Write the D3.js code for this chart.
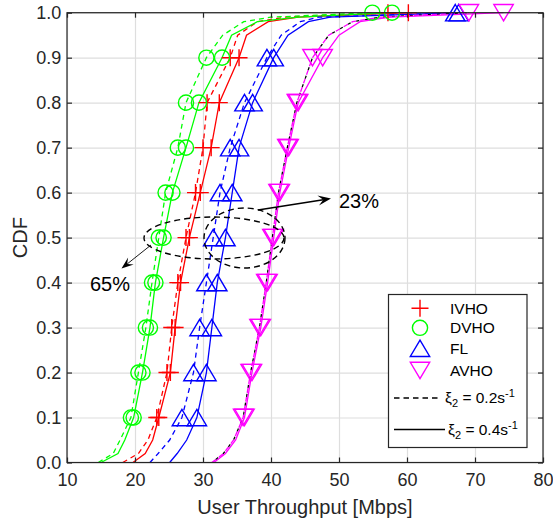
<!DOCTYPE html>
<html>
<head>
<meta charset="utf-8">
<script src="https://cdn.jsdelivr.net/npm/d3@7/dist/d3.min.js"></script>
<style>
  body { margin: 0; background: #fff; }
  svg { display: block; font-family: "Liberation Sans", Arial, sans-serif; }
</style>
</head>
<body>
<div id="chart"></div>
<script>
// CDF levels shared by every curve
const levels = [0, 0.02, 0.05, 0.1, 0.2, 0.3, 0.4, 0.5, 0.6, 0.7, 0.8, 0.9, 0.95, 0.98, 0.99, 1];
const markerLevels = [0.1, 0.2, 0.3, 0.4, 0.5, 0.6, 0.7, 0.8, 0.9, 1];

// throughput (Mbps) at each level, xi2 = 0.2 (dashed) and 0.4 (solid)
const ivho02 = [18.2, 20.5, 21.9, 23.2, 24.7, 25.4, 26.3, 27.5, 28.9, 30.0, 30.6, 34.0, 35.1, 38.0, 42.0, 57.2];
const ivho04 = [19.7, 21.5, 22.6, 23.5, 25.2, 25.9, 26.7, 28.0, 29.6, 31.2, 32.4, 35.3, 36.4, 39.6, 44.0, 60.2];
const dvho02 = [14.6, 16.8, 17.8, 19.4, 20.5, 21.6, 22.5, 23.5, 24.5, 26.3, 27.5, 30.5, 32.9, 36.0, 40.0, 54.9];
const dvho04 = [15.0, 17.5, 18.5, 19.8, 21.1, 22.2, 23.0, 24.2, 25.5, 27.5, 29.4, 32.8, 34.2, 38.0, 44.0, 57.8];
const fl02   = [22.2, 23.4, 25.1, 26.9, 28.6, 29.5, 30.5, 31.5, 32.5, 34.0, 36.1, 39.4, 41.5, 44.3, 47.0, 67.1];
const fl04   = [25.1, 26.2, 27.6, 29.1, 30.5, 31.3, 32.1, 33.3, 34.3, 35.3, 37.3, 40.4, 42.5, 45.5, 48.7, 67.6];
const avho02 = [31.3, 33.0, 34.5, 35.9, 37.0, 38.3, 39.3, 40.2, 41.1, 42.4, 43.8, 46.1, 48.5, 52.0, 56.0, 69.1];
const avho04 = [31.6, 33.3, 34.8, 36.1, 37.2, 38.5, 39.5, 40.4, 41.3, 42.6, 44.0, 47.6, 50.0, 53.1, 57.5, 74.2];

const xTicks = [10, 20, 30, 40, 50, 60, 70, 80];
const yTicks = [0, 0.1, 0.2, 0.3, 0.4, 0.5, 0.6, 0.7, 0.8, 0.9, 1];

const series = [
  { name: 'IVHO', color: '#ff0000', marker: 'plus', dashed: ivho02, solid: ivho04 },
  { name: 'DVHO', color: '#00ff00', marker: 'circle', dashed: dvho02, solid: dvho04 },
  { name: 'FL', color: '#0000ff', marker: 'triUp', dashed: fl02, solid: fl04 },
  { name: 'AVHO', color: '#ff00ff', marker: 'triDown', dashed: avho02, solid: avho04 }
];

const W = 553, H = 523;
const plotL = 67, plotR = 543, plotT = 12.7, plotB = 462.5;
const axisColor = '#262626';

const svg = d3.select('#chart').append('svg')
  .attr('width', W)
  .attr('height', H);

const x = d3.scaleLinear().domain([10, 80]).range([plotL, plotR]);
const y = d3.scaleLinear().domain([0, 1]).range([plotB, plotT]);

// grid
svg.append('g')
  .attr('transform', `translate(0,${plotB})`)
  .call(d3.axisBottom(x).tickValues(xTicks).tickSize(-(plotB - plotT)).tickFormat(''))
  .call(g => g.select('.domain').remove())
  .call(g => g.selectAll('line').attr('stroke', '#dedede').attr('stroke-width', 1.2));
svg.append('g')
  .attr('transform', `translate(${plotL},0)`)
  .call(d3.axisLeft(y).tickValues(yTicks).tickSize(-(plotR - plotL)).tickFormat(''))
  .call(g => g.select('.domain').remove())
  .call(g => g.selectAll('line').attr('stroke', '#dedede').attr('stroke-width', 1.2));

// curves
const line = d3.line()
  .x(d => x(d))
  .y((d, i) => y(levels[i]));

const curves = svg.append('g').attr('fill', 'none').attr('stroke-width', 1.3);

series.forEach(s => {
  curves.append('path')
    .attr('d', line(s.dashed))
    .attr('stroke', s.color)
    .attr('stroke-dasharray', '5,4');
  if (s.name === 'AVHO') {
    // black dashed legend line sits on the AVHO dashed curve
    curves.append('path')
      .attr('d', line(avho02))
      .attr('stroke', '#000')
      .attr('stroke-dasharray', '3,6')
      .attr('stroke-dashoffset', -5);
  }
  curves.append('path')
    .attr('d', line(s.solid))
    .attr('stroke', s.color);
});

function markerPath(type, cx, cy) {
  if (type === 'plus') {
    const r = 8.5;
    return `M${cx - r},${cy}H${cx + r}M${cx},${cy - r}V${cy + r}`;
  }
  if (type === 'circle') {
    const r = 7.6;
    return `M${cx - r},${cy}A${r},${r} 0 1,0 ${cx + r},${cy}A${r},${r} 0 1,0 ${cx - r},${cy}Z`;
  }
  const hw = 9.7, hh = 8.2;
  if (type === 'triUp') {
    return `M${cx},${cy - hh}L${cx + hw},${cy + hh}L${cx - hw},${cy + hh}Z`;
  }
  return `M${cx},${cy + hh}L${cx + hw},${cy - hh}L${cx - hw},${cy - hh}Z`;
}

// markers
const marks = svg.append('g').attr('fill', 'none').attr('stroke-width', 1.4);
series.forEach(s => {
  [s.dashed, s.solid].forEach(vals => {
    markerLevels.forEach(lv => {
      const i = levels.indexOf(lv);
      marks.append('path')
        .attr('d', markerPath(s.marker, x(vals[i]), y(lv)))
        .attr('stroke', s.color);
    });
  });
});

// axes box with inward ticks
const tickLen = 5;
svg.append('rect')
  .attr('x', plotL).attr('y', plotT)
  .attr('width', plotR - plotL).attr('height', plotB - plotT)
  .attr('fill', 'none')
  .attr('stroke', axisColor).attr('stroke-width', 1.2);

function styleAxis(g) {
  g.select('.domain').remove();
  g.selectAll('.tick line').attr('stroke', axisColor).attr('stroke-width', 1.2);
  g.selectAll('.tick text')
    .attr('fill', axisColor)
    .attr('font-size', 18)
    .attr('font-family', '"Liberation Sans", Arial, sans-serif');
}

svg.append('g')
  .attr('transform', `translate(0,${plotB})`)
  .call(d3.axisBottom(x).tickValues(xTicks).tickSizeInner(-tickLen).tickSizeOuter(0).tickPadding(10.5))
  .call(styleAxis);
svg.append('g')
  .attr('transform', `translate(0,${plotT})`)
  .call(d3.axisTop(x).tickValues(xTicks).tickSizeInner(-tickLen).tickSizeOuter(0).tickFormat(''))
  .call(styleAxis);
svg.append('g')
  .attr('transform', `translate(${plotL},0)`)
  .call(d3.axisLeft(y).tickValues(yTicks).tickSizeInner(-tickLen).tickSizeOuter(0).tickPadding(5.7))
  .call(styleAxis);
svg.append('g')
  .attr('transform', `translate(${plotR},0)`)
  .call(d3.axisRight(y).tickValues(yTicks).tickSizeInner(-tickLen).tickSizeOuter(0).tickFormat(''))
  .call(styleAxis);

// axis labels
svg.append('text')
  .attr('x', (plotL + plotR) / 2)
  .attr('y', 514)
  .attr('text-anchor', 'middle')
  .attr('font-size', 20)
  .attr('fill', axisColor)
  .text('User Throughput [Mbps]');
svg.append('text')
  .attr('transform', `translate(27,${(plotT + plotB) / 2}) rotate(-90)`)
  .attr('text-anchor', 'middle')
  .attr('font-size', 20)
  .attr('fill', axisColor)
  .text('CDF');

// annotations: ellipses and arrows
const ann = svg.append('g').attr('fill', 'none').attr('stroke', '#000');
ann.append('ellipse')
  .attr('cx', 214).attr('cy', 238).attr('rx', 70).attr('ry', 21)
  .attr('stroke-width', 1.4).attr('stroke-dasharray', '6,4');
ann.append('ellipse')
  .attr('cx', 244.5).attr('cy', 238).attr('rx', 40.5).attr('ry', 30)
  .attr('stroke-width', 1.4).attr('stroke-dasharray', '6,4');

function arrow(x1, y1, x2, y2, len, hw, sw) {
  const a = Math.atan2(y2 - y1, x2 - x1);
  const ca = Math.cos(a), sa = Math.sin(a);
  const bx = x2 - len * ca, by = y2 - len * sa;
  const mx = x2 - len * 0.6 * ca, my = y2 - len * 0.6 * sa;
  ann.append('line')
    .attr('x1', x1).attr('y1', y1).attr('x2', mx).attr('y2', my)
    .attr('stroke-width', sw);
  ann.append('path')
    .attr('d', `M${x2},${y2}L${bx - hw * sa},${by + hw * ca}L${mx},${my}L${bx + hw * sa},${by - hw * ca}Z`)
    .attr('fill', '#000').attr('stroke', 'none');
}
arrow(258, 210, 331, 198.5, 13, 5, 1.4);
arrow(151, 245, 121.5, 268.5, 12, 4.5, 0.9);

svg.append('text')
  .attr('x', 339).attr('y', 207.5)
  .attr('font-size', 20).attr('fill', '#000')
  .text('23%');
svg.append('text')
  .attr('x', 90).attr('y', 290.5)
  .attr('font-size', 20).attr('fill', '#000')
  .text('65%');

// legend
const lg = svg.append('g');
lg.append('rect')
  .attr('x', 388.5).attr('y', 294.5).attr('width', 138.5).attr('height', 153)
  .attr('fill', '#fff').attr('stroke', axisColor).attr('stroke-width', 1.2);

const legendRows = [308.3, 327.8, 348.3, 370.5];
series.forEach((s, i) => {
  lg.append('path')
    .attr('d', markerPath(s.marker, 420, legendRows[i]))
    .attr('fill', 'none').attr('stroke', s.color).attr('stroke-width', 1.4);
  lg.append('text')
    .attr('x', 450).attr('y', legendRows[i] + 5.6)
    .attr('font-size', 15.5).attr('fill', '#000')
    .text(s.name);
});

const rateRows = [
  { y: 398, dashed: true, x2: 440, tx: 445, label: ' = 0.2s' },
  { y: 429.5, dashed: false, x2: 445, tx: 448, label: ' = 0.4s' }
];
rateRows.forEach(r => {
  lg.append('line')
    .attr('x1', 394).attr('x2', r.x2).attr('y1', r.y).attr('y2', r.y)
    .attr('stroke', '#000').attr('stroke-width', 1.3)
    .attr('stroke-dasharray', r.dashed ? '5.5,4' : null);
  const t = lg.append('text')
    .attr('x', r.tx).attr('y', r.y + 5)
    .attr('font-size', 15.5).attr('fill', '#000');
  t.append('tspan').text('ξ');
  t.append('tspan').attr('dy', 4).attr('font-size', 11).text('2');
  t.append('tspan').attr('dy', -4).text(r.label);
  t.append('tspan').attr('dy', -6).attr('font-size', 11).text('-1');
});
</script>
</body>
</html>
